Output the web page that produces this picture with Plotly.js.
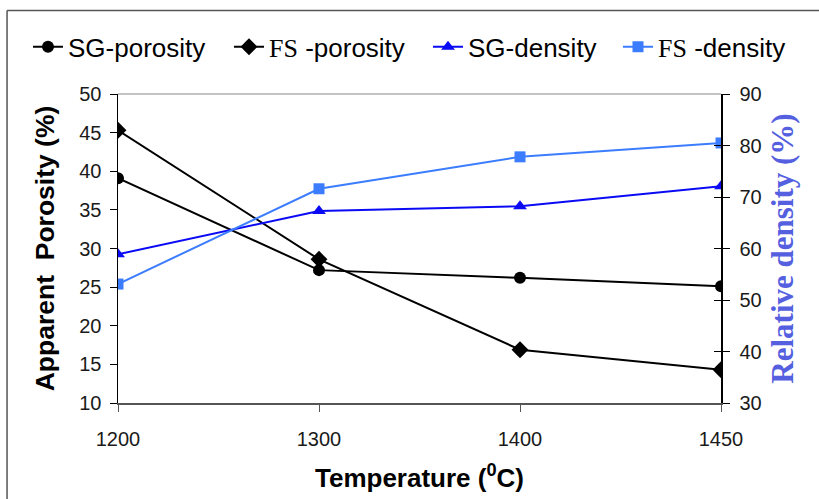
<!DOCTYPE html>
<html><head><meta charset="utf-8">
<script src="https://cdn.plot.ly/plotly-3.0.1.min.js"></script>
<style>body{margin:0;background:#fff}#c{width:819px;height:499px}</style>
</head><body><div id="c"></div>
<script>
const temps = ['1200', '1300', '1400', '1450'];
const sgPorosity = [39.1, 27.2, 26.2, 25.1];
const fsPorosity = [45.3, 28.6, 16.9, 14.3];
const sgDensity = [58.9, 67.3, 68.2, 72.1];
const fsDensity = [53.1, 71.6, 77.8, 80.5];
const leftTicks = [10, 15, 20, 25, 30, 35, 40, 45, 50];
const rightTicks = [30, 40, 50, 60, 70, 80, 90];

const A = 'Liberation Sans, Arial, sans-serif';
const S = 'Liberation Serif, Times New Roman, serif';
const fsName = t => '<span style="font-family:Liberation Serif, serif">FS</span> -' + t;

const traces = [
  {x: temps, y: sgPorosity, name: 'SG-porosity', mode: 'lines+markers', legend: 'legend',
   line: {color: '#000', width: 2}, marker: {symbol: 'circle', size: 12, color: '#000'}},
  {x: temps, y: fsPorosity, name: fsName('porosity'), mode: 'lines+markers', legend: 'legend2',
   line: {color: '#000', width: 2}, marker: {symbol: 'diamond', size: 13, color: '#000'}},
  {x: temps, y: sgDensity, name: 'SG-density', yaxis: 'y2', mode: 'lines+markers', legend: 'legend3',
   line: {color: '#0a0af5', width: 2}, marker: {symbol: 'triangle-up', size: 12, color: '#0a0af5'}},
  {x: temps, y: fsDensity, name: fsName('density'), yaxis: 'y2', mode: 'lines+markers', legend: 'legend4',
   line: {color: '#3c7dff', width: 2}, marker: {symbol: 'square', size: 11, color: '#3c7dff'}},
  {x: temps, y: sgDensity, yaxis: 'y3', showlegend: false, hoverinfo: 'skip',
   mode: 'markers', marker: {opacity: 0}}
];

const leg = x => ({orientation: 'h', x: x, xref: 'container', y: 0.906, yref: 'container',
  xanchor: 'left', yanchor: 'middle', font: {size: 26, color: '#000', family: A},
  bgcolor: 'rgba(0,0,0,0)'});

const layout = {
  width: 819, height: 499,
  margin: {l: 118, r: 98, t: 94, b: 96},
  paper_bgcolor: '#fff', plot_bgcolor: '#fff',
  font: {family: A, color: '#1a1a1a'},
  showlegend: true,
  legend: leg(28 / 819), legend2: leg(229 / 819), legend3: leg(428 / 819), legend4: leg(618 / 819),
  xaxis: {type: 'category', range: [0, 3], showgrid: false, zeroline: false,
          showline: true, linecolor: '#555', linewidth: 1.5,
          ticks: 'outside', ticklen: 7, tickcolor: '#555', ticklabelstandoff: 10,
          tickfont: {size: 20, family: A, color: '#1a1a1a'},
          title: {text: '<b>Temperature (<sup>0</sup>C)</b>', font: {size: 26, family: A, color: '#000'}, standoff: 20}},
  yaxis: {range: [10, 50], tickvals: leftTicks, showgrid: false, zeroline: false,
          showline: true, linecolor: '#000', linewidth: 1.5,
          ticks: 'outside', ticklen: 7, tickcolor: '#000', ticklabelstandoff: 4,
          tickfont: {size: 20, family: A, color: '#1a1a1a'},
          title: {text: '<b>Apparent  Porosity (%)</b>', font: {size: 26.5, family: A, color: '#000'}, standoff: 17}},
  yaxis2: {range: [30, 90], tickvals: rightTicks, overlaying: 'y', side: 'right',
           showgrid: false, zeroline: false, showline: true, linecolor: '#000', linewidth: 1.5,
           ticks: 'outside', ticklen: 7, tickcolor: '#000', ticklabelstandoff: 6,
           tickfont: {size: 20, family: A, color: '#1a1a1a'},
           title: {text: '<b>Relative density (%)</b>', font: {size: 31, family: S, color: '#5560e0'}, standoff: 10}},
  yaxis3: {range: [30, 90], tickvals: rightTicks, overlaying: 'y', side: 'right', anchor: 'x',
           showgrid: false, zeroline: false, showline: false, showticklabels: false,
           ticks: 'inside', ticklen: 7, tickcolor: '#000'},
  shapes: [
    {type: 'line', xref: 'paper', yref: 'paper', x0: 0, x1: 1, y0: 1, y1: 1, line: {color: '#888', width: 1}},
    {type: 'line', xref: 'paper', yref: 'paper', x0: -0.184, x1: -0.184, y0: -0.33, y1: 1.27, line: {color: '#555', width: 1.5}},
    {type: 'line', xref: 'paper', yref: 'paper', x0: -0.184, x1: 1.2, y0: 1.27, y1: 1.27, line: {color: '#555', width: 1.5}}
  ]
};
Plotly.newPlot('c', traces, layout, {displayModeBar: false, staticPlot: true});
</script></body></html>
